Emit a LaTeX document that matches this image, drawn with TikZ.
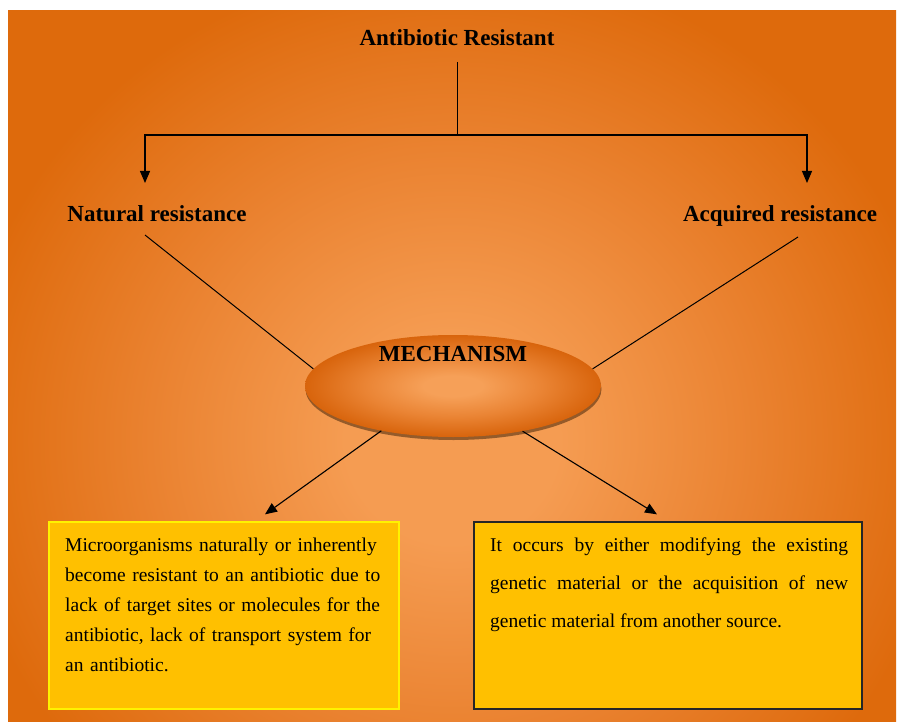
\documentclass[tikz,border=0pt]{standalone}
\usepackage{fontspec}
\setmainfont{Liberation Serif}
\usetikzlibrary{arrows.meta,shapes.geometric,shadows}
\definecolor{bgdark}{RGB}{222,106,12}
\definecolor{bgmid}{RGB}{234,130,48}
\definecolor{bglight}{RGB}{245,156,82}
\definecolor{elldark}{RGB}{216,100,12}
\definecolor{ellmid}{RGB}{234,132,52}
\definecolor{elllight}{RGB}{246,160,88}
\definecolor{boxgold}{RGB}{255,192,0}
\pgfdeclareradialshading{bgglow}{\pgfpoint{0bp}{0bp}}{color(0bp)=(bglight); color(6bp)=(bglight); color(17bp)=(bgmid); color(28bp)=(bgdark); color(50bp)=(bgdark)}
\pgfdeclareradialshading{ellglow}{\pgfpoint{0bp}{0bp}}{color(0bp)=(elllight); color(5bp)=(elllight); color(15bp)=(ellmid); color(25bp)=(elldark); color(50bp)=(elldark)}
\begin{document}
\begin{tikzpicture}[x=1pt,y=-1pt,
  heading/.style={font=\fontsize{23}{28}\selectfont\bfseries,inner sep=0pt,anchor=base},
  boxtext/.style={font=\fontsize{19.5}{30}\selectfont,inner sep=0pt,anchor=north west},
  link/.style={line width=1pt},
  arr/.style={line width=1.1pt,-{Triangle[length=12pt,width=10pt]}}]
\useasboundingbox (0,0) rectangle (899,722);
\fill[white] (0,0) rectangle (899,722);
\begin{scope}
\clip (8,11) rectangle (899,722);
\shade[shading=bgglow] (8,11) rectangle (896,869);
\end{scope}
\node[heading] (title) at (457,46) {Antibiotic Resistant};
\node[heading] (natural) at (157,222) {Natural resistance};
\node[heading] (acquired) at (780,222) {Acquired resistance};
\coordinate (bar) at (457,135);
\draw[link] ([yshift=-16pt]title.base) -- (bar);
\draw[arr] (bar) -| ([xshift=-12pt,yshift=39pt]natural.base);
\draw[arr] (bar) -| ([xshift=27pt,yshift=39pt]acquired.base);
\node[ellipse,minimum width=296pt,minimum height=102pt,inner sep=0pt,shading=ellglow,
  drop shadow={shadow xshift=0.5pt,shadow yshift=-3pt,fill=black!75!bgdark,opacity=0.5}] (mech) at (453,386) {};
\node[heading,anchor=center] (mechlabel) at (453,354) {MECHANISM};
\draw[link] ([xshift=-12pt,yshift=-13pt]natural.base) -- (mech.173);
\draw[link] ([xshift=18pt,yshift=-15pt]acquired.base) -- (mech.7);
\node[draw=yellow,line width=1.3pt,fill=boxgold,minimum width=350pt,minimum height=187pt] (natbox) at (224,615.5) {};
\node[draw=black!85,line width=1.3pt,fill=boxgold,minimum width=388pt,minimum height=187pt] (acqbox) at (668,615.5) {};
\draw[arr] (mech.212) -- ([xshift=41pt,yshift=7pt]natbox.north);
\draw[arr] (mech.327) -- ([xshift=-11pt,yshift=7pt]acqbox.north);
\node[boxtext,text width=340pt,align=left] (nattext) at (65,538) {Microorganisms naturally or inherently\\become resistant to an antibiotic due to\\lack of target sites or molecules for the\\antibiotic, lack of transport system for\\an antibiotic.};
\node[boxtext,text width=358pt,align=justify,font=\fontsize{19.5}{38}\selectfont] (acqtext) at (490,538) {It occurs by either modifying the existing\linebreak genetic material or the acquisition of new\linebreak genetic material from another source.};
\end{tikzpicture}
\end{document}
